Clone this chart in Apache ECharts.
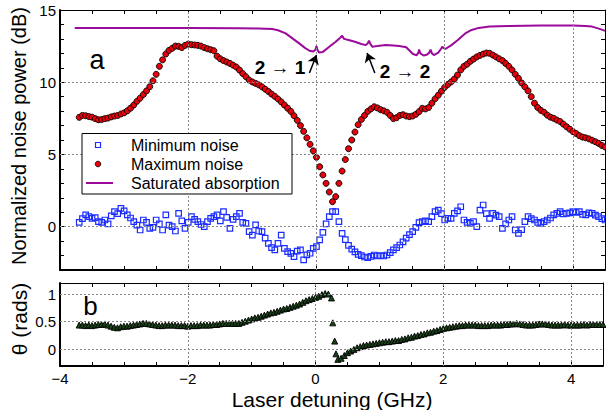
<!DOCTYPE html>
<html>
<head>
<meta charset="utf-8">
<script src="https://cdn.jsdelivr.net/npm/echarts@6/dist/echarts.min.js"></script>
<style>html,body{margin:0;padding:0;background:#fff}#c{width:606px;height:410px}</style>
</head>
<body>
<div id="c"></div>
<script>
// Common detuning grid (GHz)
const detuning = [
-3.7,-3.65,-3.6,-3.55,-3.5,-3.45,-3.4,-3.35,-3.3,-3.25,
-3.2,-3.15,-3.1,-3.05,-3,-2.95,-2.9,-2.85,-2.8,-2.75,
-2.7,-2.65,-2.6,-2.55,-2.5,-2.45,-2.4,-2.35,-2.3,-2.25,
-2.2,-2.15,-2.1,-2.05,-2,-1.95,-1.9,-1.85,-1.8,-1.75,
-1.7,-1.65,-1.6,-1.55,-1.5,-1.45,-1.4,-1.35,-1.3,-1.25,
-1.2,-1.15,-1.1,-1.05,-1,-0.95,-0.9,-0.85,-0.8,-0.75,
-0.7,-0.65,-0.6,-0.55,-0.5,-0.45,-0.4,-0.35,-0.3,-0.25,
-0.2,-0.15,-0.1,-0.05,0,0.05,0.1,0.15,0.2,0.25,
0.3,0.35,0.4,0.45,0.5,0.55,0.6,0.65,0.7,0.75,
0.8,0.85,0.9,0.95,1,1.05,1.1,1.15,1.2,1.25,
1.3,1.35,1.4,1.45,1.5,1.55,1.6,1.65,1.7,1.75,
1.8,1.85,1.9,1.95,2,2.05,2.1,2.15,2.2,2.25,
2.3,2.35,2.4,2.45,2.5,2.55,2.6,2.65,2.7,2.75,
2.8,2.85,2.9,2.95,3,3.05,3.1,3.15,3.2,3.25,
3.3,3.35,3.4,3.45,3.5,3.55,3.6,3.65,3.7,3.75,
3.8,3.85,3.9,3.95,4,4.05,4.1,4.15,4.2,4.25,
4.3,4.35,4.4,4.45,4.5];

// Maximum noise (dB)
const maxNoise = [
7.57,7.70,7.68,7.62,7.58,7.48,7.40,7.42,7.48,7.52,
7.60,7.66,7.70,7.80,7.88,8.02,8.20,8.42,8.68,8.90,
9.15,9.40,9.69,10.10,10.55,11.10,11.55,11.95,12.20,12.35,
12.50,12.48,12.40,12.55,12.64,12.60,12.58,12.55,12.50,12.40,
12.32,12.25,12.18,11.80,11.62,11.50,11.40,11.30,11.18,11.05,
10.84,10.60,10.38,10.15,10.02,9.92,9.82,9.68,9.52,9.36,
9.18,9.02,8.84,8.64,8.42,8.20,7.98,7.68,7.36,7.00,
6.60,6.15,5.70,5.25,4.80,4.15,3.58,3.00,2.40,1.73,
2.08,3.00,3.85,4.65,5.40,6.00,6.55,7.06,7.42,7.70,
7.98,8.15,8.30,8.22,8.10,8.02,7.92,7.70,7.48,7.55,
7.70,7.75,7.66,7.62,7.66,7.78,7.96,8.19,8.15,8.25,
8.55,8.85,9.10,9.38,9.65,9.85,10.02,10.22,10.50,10.85,
11.10,11.25,11.45,11.60,11.75,11.86,11.95,12.02,12.00,11.88,
11.75,11.62,11.50,11.30,11.10,10.85,10.55,10.27,9.95,9.68,
9.40,9.00,8.55,8.25,8.05,7.92,7.72,7.58,7.50,7.38,
7.28,7.10,6.92,6.75,6.58,6.45,6.30,6.20,6.15,6.08,
5.98,5.88,5.77,5.62,5.52];

// Minimum noise (dB)
const minNoise = [
0.30,0.55,0.81,0.70,0.58,0.62,0.35,0.30,0.46,0.20,
0.75,1.04,0.90,1.27,1.10,0.81,0.60,0.35,0.10,-0.23,
0.46,0.30,-0.12,-0.05,0.46,0.20,-0.23,0.81,0.10,0.00,
-0.30,0.92,0.40,-0.12,0.30,0.69,0.50,0.35,0.15,0.00,
0.35,0.58,0.70,0.81,0.40,1.04,0.65,-0.12,0.50,0.69,
0.92,0.30,0.23,-0.35,-0.58,0.12,-0.30,-0.35,-0.80,-1.15,
-1.45,-1.61,-1.15,-0.58,-1.50,-1.73,-1.85,-2.08,-1.70,-1.61,
-2.30,-1.95,-1.84,-1.50,-1.38,-0.92,-0.40,0.20,0.70,1.04,
1.04,0.35,-0.46,-0.90,-1.30,-1.55,-1.75,-1.92,-2.00,-2.10,
-2.14,-2.05,-1.96,-2.03,-2.00,-2.03,-1.96,-1.80,-1.61,-1.45,
-1.27,-1.05,-0.80,-0.55,-0.35,-0.05,0.28,0.35,0.40,0.35,
0.70,1.04,1.15,0.90,0.46,0.58,0.58,0.92,1.10,1.38,
0.46,0.30,0.23,0.35,0.00,1.15,1.50,0.90,0.58,0.92,
0.80,0.69,-0.12,0.20,0.46,0.69,-0.23,-0.46,-0.20,0.35,
0.69,0.55,0.46,0.30,0.23,0.35,0.46,0.60,0.81,0.92,
1.04,0.88,0.92,0.95,1.04,0.98,1.04,0.85,0.81,0.95,
0.92,0.80,0.69,0.55,0.46];

// Theta (rads)
const theta = [
0.44,0.44,0.43,0.44,0.43,0.44,0.45,0.45,0.46,0.44,
0.42,0.40,0.39,0.41,0.42,0.42,0.43,0.44,0.45,0.46,
0.47,0.47,0.46,0.45,0.44,0.43,0.43,0.44,0.44,0.44,
0.44,0.43,0.43,0.43,0.42,0.43,0.43,0.43,0.44,0.44,
0.44,0.44,0.45,0.45,0.46,0.47,0.47,0.47,0.47,0.47,
0.47,0.49,0.51,0.53,0.55,0.57,0.58,0.60,0.62,0.64,
0.66,0.67,0.69,0.71,0.73,0.74,0.76,0.78,0.80,0.82,
0.85,0.88,0.90,0.92,0.94,0.96,0.99,1.01,1.00,0.93,
0.15,-0.18,-0.16,-0.11,-0.06,-0.03,0.00,0.03,0.05,0.07,
0.08,0.09,0.10,0.11,0.12,0.13,0.14,0.14,0.15,0.16,
0.16,0.18,0.19,0.21,0.22,0.24,0.25,0.27,0.28,0.30,
0.31,0.33,0.34,0.36,0.38,0.39,0.40,0.41,0.42,0.43,
0.43,0.44,0.44,0.44,0.44,0.43,0.43,0.43,0.43,0.44,
0.44,0.44,0.44,0.45,0.45,0.46,0.46,0.47,0.46,0.45,
0.44,0.44,0.44,0.45,0.46,0.46,0.46,0.45,0.44,0.44,
0.44,0.44,0.45,0.44,0.44,0.44,0.44,0.44,0.45,0.44,
0.45,0.45,0.45,0.45,0.45];
const thetaJumpX = [0.27, 0.32];
const thetaJumpY = [0.48, -0.08];

// Saturated absorption trace (dB)
const satX = [-3.77,-3.0,-2.0,-1.2,-0.9,-0.69,-0.6,-0.48,-0.38,-0.27,-0.18,-0.11,-0.05,-0.015,0,0.015,0.04,0.1,0.2,0.3,0.37,0.4,0.43,0.5,0.6,0.7,0.77,0.8,0.82,0.84,0.87,0.95,1.08,1.2,1.29,1.4,1.5,1.56,1.59,1.6,1.62,1.67,1.72,1.76,1.78,1.8,1.83,1.9,1.95,1.96,1.98,2.01,2.1,2.2,2.32,2.42,2.53,2.7,3.0,3.5,4.0,4.19,4.3,4.44,4.5];
const satY = [13.76,13.76,13.75,13.74,13.72,13.68,13.60,13.38,13.05,12.69,12.38,12.18,12.12,12.25,12.50,12.25,12.06,12.10,12.45,12.80,13.08,13.22,13.00,12.92,12.80,12.65,12.57,12.70,12.88,12.65,12.46,12.50,12.57,12.55,12.50,12.42,11.97,11.86,12.05,12.26,12.00,11.85,11.90,12.05,12.26,12.00,11.88,12.05,12.35,12.46,12.38,12.30,12.55,12.90,13.38,13.62,13.76,13.86,13.90,13.92,13.92,13.90,13.85,13.66,13.55];

// Axis tick label values
const xLabelTicks = [-4, -2, 0, 2, 4];
const noiseLabelTicks = [0, 5, 10, 15];
const thetaLabelTicks = [0, 0.5, 1];

// Annotation arrows (data coords: tail -> head)
const arrow21 = [[-0.11, 10.64], [0.0, 11.88]];
const arrow22 = [[0.91, 10.64], [0.79, 12.02]];

const zip = (xs, ys) => xs.map((x, i) => [x, ys[i]]);
const FONT = 'Liberation Sans, Arial, Helvetica, sans-serif';
const fmt = v => (v < 0 ? '\u2212' + Math.abs(v) : String(v));
const labelIn = list => v => {
  const hit = list.find(t => Math.abs(t - v) < 1e-6);
  return hit === undefined ? '' : fmt(hit);
};
const GRID = { color: '#8a8a8a', width: 1, type: [2, 2] };

function xAx(grid, pos, labels) {
  return {
    type: 'value', gridIndex: grid, position: pos, min: -4, max: 4.5, interval: 0.5,
    axisLine: { show: true, onZero: false, lineStyle: { color: '#000', width: pos === 'bottom' ? 2 : 1 } },
    axisTick: { show: true, inside: true, length: 4, lineStyle: { color: '#000', width: 1 } },
    axisLabel: { show: labels, formatter: labelIn(xLabelTicks), color: '#000', fontSize: 15, fontFamily: FONT, margin: 5 },
    splitLine: { show: false }
  };
}
function yAx(grid, pos, min, max, interval, ticks, labels, list) {
  return {
    type: 'value', gridIndex: grid, position: pos, min: min, max: max, interval: interval,
    axisLine: { show: true, onZero: false, lineStyle: { color: '#000', width: pos === 'left' ? 2 : 1 } },
    axisTick: { show: ticks, inside: true, length: 4, lineStyle: { color: '#000', width: 1 } },
    axisLabel: { show: labels, formatter: labelIn(list || []), color: '#000', fontSize: 15, fontFamily: FONT, margin: 4 },
    splitLine: { show: false }
  };
}

const thetaData = zip(detuning, theta).concat(zip(thetaJumpX, thetaJumpY)).sort((a, b) => a[0] - b[0]);

const chart = echarts.init(document.getElementById('c'), null, { renderer: 'svg' });
chart.setOption({
  animation: false,
  backgroundColor: '#fff',
  textStyle: { fontFamily: FONT },
  grid: [
    { left: 60, right: 1, top: 10, height: 260 },
    { left: 60, right: 1, top: 283, height: 83 }
  ],
  xAxis: [xAx(0, 'bottom', false), xAx(0, 'top', false), xAx(1, 'bottom', true), xAx(1, 'top', false)],
  yAxis: [
    yAx(0, 'left', -3, 15, 1, true, true, noiseLabelTicks),
    yAx(0, 'right', -3, 15, 1, true, false),
    yAx(1, 'left', -0.3, 1.2, 0.1, false, true, thetaLabelTicks),
    yAx(1, 'right', -0.3, 1.2, 0.1, false, false)
  ],
  series: [
    { type: 'line', xAxisIndex: 0, yAxisIndex: 0, data: [], z: 1, silent: true,
      markLine: { silent: true, symbol: 'none', label: { show: false }, lineStyle: GRID,
        data: [{ xAxis: -2 }, { xAxis: 0 }, { xAxis: 2 }, { xAxis: 4 }, { yAxis: 0 }, { yAxis: 5 }, { yAxis: 10 }] } },
    { type: 'line', xAxisIndex: 2, yAxisIndex: 2, data: [], z: 1, silent: true,
      markLine: { silent: true, symbol: 'none', label: { show: false }, lineStyle: GRID,
        data: [{ xAxis: -2 }, { xAxis: 0 }, { xAxis: 2 }, { xAxis: 4 }, { yAxis: 0 }, { yAxis: 0.5 }, { yAxis: 1 }] } },
    { name: 'Saturated absorption', type: 'line', xAxisIndex: 0, yAxisIndex: 0, data: zip(satX, satY),
      symbol: 'none', z: 3, lineStyle: { color: '#9b0a9b', width: 2 } },
    { name: 'Minimum noise', type: 'scatter', xAxisIndex: 0, yAxisIndex: 0, data: zip(detuning, minNoise),
      symbol: 'rect', symbolSize: 5.5, z: 3,
      itemStyle: { color: 'rgba(255,255,255,0)', borderColor: '#1a2cff', borderWidth: 1.2, opacity: 1 } },
    { name: 'Maximum noise', type: 'scatter', xAxisIndex: 0, yAxisIndex: 0, data: zip(detuning, maxNoise),
      symbol: 'circle', symbolSize: 6, z: 4,
      itemStyle: { color: '#e8000b', borderColor: '#000', borderWidth: 0.9, opacity: 1 } },
    { type: 'line', xAxisIndex: 0, yAxisIndex: 0, data: [], z: 5, silent: true,
      markLine: { silent: true, symbol: ['none', 'arrow'], symbolSize: 9, label: { show: false },
        lineStyle: { color: '#000', width: 1.5, type: 'solid' },
        data: [
          [{ coord: arrow21[0] }, { coord: arrow21[1] }],
          [{ coord: arrow22[0] }, { coord: arrow22[1] }]
        ] } },
    { name: 'theta', type: 'scatter', xAxisIndex: 2, yAxisIndex: 2, data: thetaData,
      symbol: 'triangle', symbolSize: 6, z: 3,
      itemStyle: { color: '#174317', borderColor: '#000', borderWidth: 0.9, opacity: 1 } }
  ],
  graphic: [
    { type: 'text', z: 100, x: 19, y: 136, rotation: Math.PI / 2,
      style: { text: 'Normalized noise power (dB)', font: '20px ' + FONT, fill: '#000', align: 'center', verticalAlign: 'middle', textAlign: 'center', textVerticalAlign: 'middle' } },
    { type: 'text', z: 100, x: 19, y: 319, rotation: Math.PI / 2,
      style: { text: 'θ (rads)', font: '21px ' + FONT, fill: '#000', align: 'center', verticalAlign: 'middle', textAlign: 'center', textVerticalAlign: 'middle' } },
    { type: 'text', z: 100, x: 332, y: 399,
      style: { text: 'Laser detuning (GHz)', font: '21px ' + FONT, fill: '#000', align: 'center', verticalAlign: 'middle', textAlign: 'center', textVerticalAlign: 'middle' } },
    { type: 'text', z: 100, x: 97, y: 60,
      style: { text: 'a', font: '27px ' + FONT, fill: '#000', align: 'center', verticalAlign: 'middle', textAlign: 'center', textVerticalAlign: 'middle' } },
    { type: 'text', z: 100, x: 90.5, y: 306,
      style: { text: 'b', font: '26px ' + FONT, fill: '#000', align: 'center', verticalAlign: 'middle', textAlign: 'center', textVerticalAlign: 'middle' } },
    { type: 'text', z: 100, x: 280, y: 67,
      style: { text: '2 → 1', font: 'bold 19px ' + FONT, fill: '#000', align: 'center', verticalAlign: 'middle', textAlign: 'center', textVerticalAlign: 'middle' } },
    { type: 'text', z: 100, x: 405, y: 71,
      style: { text: '2 → 2', font: 'bold 19px ' + FONT, fill: '#000', align: 'center', verticalAlign: 'middle', textAlign: 'center', textVerticalAlign: 'middle' } },
    // Legend
    { type: 'rect', z: 100, shape: { x: 82, y: 133.5, width: 210, height: 60.5 }, style: { fill: '#fff', stroke: '#000', lineWidth: 1 } },
    { type: 'rect', z: 101, shape: { x: 95.5, y: 142.5, width: 5, height: 5 }, style: { fill: '#fff', stroke: '#1a2cff', lineWidth: 1.2 } },
    { type: 'circle', z: 101, shape: { cx: 98, cy: 164, r: 2.8 }, style: { fill: '#e8000b', stroke: '#000', lineWidth: 0.8 } },
    { type: 'line', z: 101, shape: { x1: 86, y1: 183, x2: 113, y2: 183 }, style: { stroke: '#9b0a9b', lineWidth: 2 } },
    { type: 'text', z: 101, x: 131, y: 145, style: { text: 'Minimum noise', font: '16px ' + FONT, fill: '#000', align: 'left', verticalAlign: 'middle', textAlign: 'left', textVerticalAlign: 'middle' } },
    { type: 'text', z: 101, x: 131, y: 164, style: { text: 'Maximum noise', font: '16px ' + FONT, fill: '#000', align: 'left', verticalAlign: 'middle', textAlign: 'left', textVerticalAlign: 'middle' } },
    { type: 'text', z: 101, x: 131, y: 183, style: { text: 'Saturated absorption', font: '16px ' + FONT, fill: '#000', align: 'left', verticalAlign: 'middle', textAlign: 'left', textVerticalAlign: 'middle' } }
  ]
});
</script>
</body>
</html>
